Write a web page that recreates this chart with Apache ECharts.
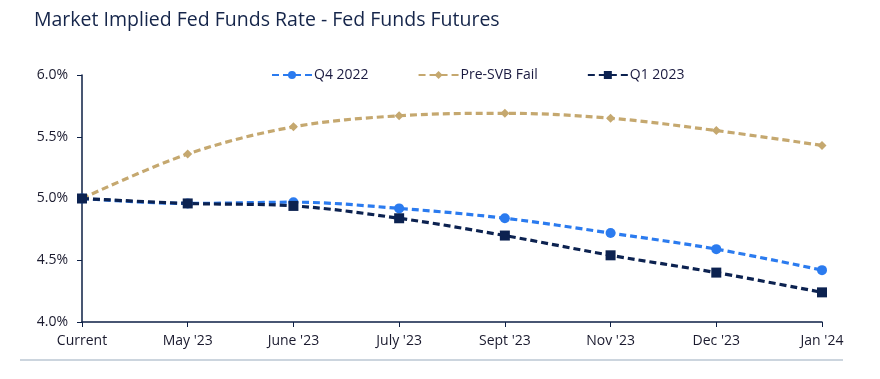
<!DOCTYPE html>
<html><head><meta charset="utf-8">
<script src="https://cdn.jsdelivr.net/npm/echarts@6/dist/echarts.min.js"></script>
<style>html,body{margin:0;padding:0;background:#fff}#c{width:880px;height:379px}</style>
</head><body><div id="c"></div>
<script>
const categories = ["Current","May '23","June '23","July '23","Sept '23","Nov '23","Dec '23","Jan '24"];
const q42022 = [5.00, 4.96, 4.97, 4.92, 4.84, 4.72, 4.59, 4.42];
const preSVB = [5.00, 5.36, 5.58, 5.67, 5.69, 5.65, 5.55, 5.43];
const q12023 = [5.00, 4.96, 4.94, 4.84, 4.70, 4.54, 4.40, 4.24];
const yTicks = [4.0, 4.5, 5.0, 5.5, 6.0];

const chart = echarts.init(document.getElementById('c'));
const font = "'Open Sans', 'Noto Sans', sans-serif";
function s(name, data, color, symbol, size){
  return {name, type:'line', data, smooth:0.35, symbol, symbolSize:size, showSymbol:true,
    lineStyle:{color, width:3.2, type:[7,4]}, itemStyle:{color}, z: 3};
}
chart.setOption({
  animation:false,
  title:{text:'Market Implied Fed Funds Rate - Fed Funds Futures', left:29, top:5,
    textStyle:{fontFamily:font, fontSize:19.5, fontWeight:'normal', color:'#15254a'}},
  legend:{top:63, left:266, itemGap:49, itemWidth:40, itemHeight:10,
    textStyle:{fontFamily:font, fontSize:14, color:'#1a1a40', padding:[0,0,0,-3]},
    data:['Q4 2022','Pre-SVB Fail','Q1 2023']},
  grid:{left:82, right:58, top:75, bottom:57},
  xAxis:{type:'category', data:categories, boundaryGap:false,
    axisLine:{lineStyle:{color:'#0d1f45', width:1.5}},
    axisTick:{show:true, length:5, lineStyle:{color:'#0d1f45'}},
    axisLabel:{fontFamily:font, fontSize:14, color:'#1a1a2e', margin:12}},
  yAxis:{type:'value', min:yTicks[0], max:yTicks[yTicks.length-1], interval:0.5,
    axisLine:{show:true, lineStyle:{color:'#0d1f45', width:1.5}},
    axisTick:{show:true, length:5, lineStyle:{color:'#0d1f45'}},
    splitLine:{show:false},
    axisLabel:{fontFamily:font, fontSize:14, color:'#1a1a2e', margin:14,
      formatter:v=>v.toFixed(1)+'%'}},
  graphic:[{type:'rect', shape:{x:20, y:359, width:823, height:2}, style:{fill:'#ccd5de'}}],
  series:[
    s('Q4 2022', q42022, '#2b7bef', 'circle', 10),
    s('Pre-SVB Fail', preSVB, '#c5a86f', 'diamond', 9),
    s('Q1 2023', q12023, '#0c2250', 'rect', 10)
  ]
});
</script></body></html>
